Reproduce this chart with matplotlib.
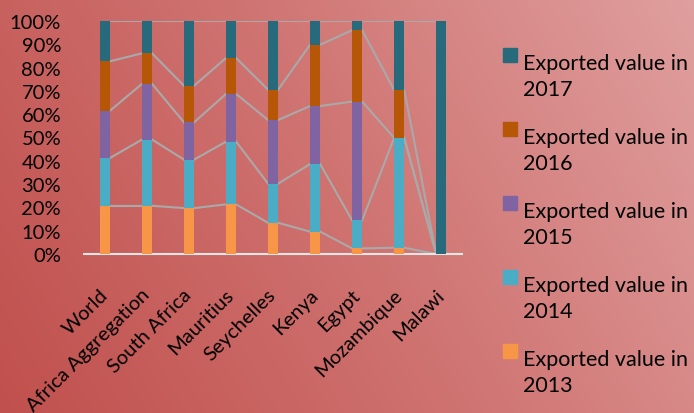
import numpy as np
import matplotlib.pyplot as plt
from matplotlib.patches import Rectangle
from matplotlib.colors import LinearSegmentedColormap

plt.rcParams['font.family'] = ['Lato', 'DejaVu Sans']

# --------------
# data: share of exported value per year (%)
# --------------
countries = ["World", "Africa Aggregation", "South Africa", "Mauritius",
             "Seychelles", "Kenya", "Egypt", "Mozambique", "Malawi"]
years = ["2013", "2014", "2015", "2016", "2017"]
v2013 = [20.7, 20.7, 19.7, 21.3, 13.4, 9.6, 2.4, 2.7, 0.0]
v2014 = [20.5, 28.4, 20.8, 26.9, 16.8, 29.0, 12.1, 47.1, 0.0]
v2015 = [20.3, 23.9, 16.0, 20.5, 27.3, 24.9, 50.9, 0.0, 0.0]
v2016 = [21.2, 13.1, 15.7, 15.4, 13.0, 26.3, 30.6, 20.6, 0.0]
v2017 = [17.3, 13.9, 27.8, 15.9, 29.5, 10.2, 4.0, 29.6, 100.0]
colors = ["#f79646", "#4bacc6", "#8064a2", "#b65708", "#276a7c"]

series = np.array([v2013, v2014, v2015, v2016, v2017])
shares = series / series.sum(axis=0) * 100

fig = plt.figure(figsize=(6.94, 4.14), dpi=100)

# gradient background
bg = fig.add_axes([0, 0, 1, 1], zorder=-1)
gx, gy = np.meshgrid(np.linspace(0, 1, 300), np.linspace(0, 1, 200))
grad = 0.75 * gx + 0.25 * gy
cmap = LinearSegmentedColormap.from_list("bg", ["#c0504d", "#cf7371", "#df9f9e"])
bg.imshow(grad, cmap=cmap, aspect="auto", origin="lower", extent=[0, 1, 0, 1])
bg.axis("off")

ax = fig.add_axes([0.121, 0.384, 0.545, 0.563])
ax.patch.set_alpha(0)

x = np.arange(len(countries))
w = 0.24
bottom = np.zeros(len(countries))
tops = []
for k in range(len(years)):
    ax.bar(x, shares[k], w, bottom=bottom, color=colors[k], zorder=3)
    bottom = bottom + shares[k]
    tops.append(bottom.copy())

# series lines between neighbouring bars
for top in tops:
    for i in range(len(countries) - 1):
        ax.plot([x[i] + w / 2, x[i + 1] - w / 2], [top[i], top[i + 1]],
                color="#a9a9a9", lw=1.5, zorder=2)

ax.set_xlim(-0.5, len(countries) - 0.5)
ax.set_ylim(0, 100)
ax.set_yticks(np.arange(0, 101, 10))
ax.set_yticklabels(["%d%%" % v for v in range(0, 101, 10)], fontsize=14.5)
ax.set_xticks(x)
ax.set_xticklabels(countries, fontsize=14.5, rotation=45, ha="right",
                   va="center", rotation_mode="anchor")
ax.tick_params(axis="both", length=0)
ax.tick_params(axis="x", pad=27)
ax.tick_params(axis="y", pad=16.5)
for s in ["left", "right", "top"]:
    ax.spines[s].set_visible(False)
ax.spines["bottom"].set_color("#e6e6e6")
ax.spines["bottom"].set_linewidth(1.5)

# legend, newest year first
for j, k in enumerate(range(len(years) - 1, -1, -1)):
    yc = 1 - (56 + 74 * j) / 414
    fig.add_artist(Rectangle((503 / 694, yc - 7 / 414), 14 / 694, 14 / 414,
                             transform=fig.transFigure, color=colors[k]))
    fig.text(523 / 694, yc + 2 / 414, "Exported value in\n" + years[k],
             fontsize=15.5, va="top", ha="left", linespacing=1.36,
             transform=fig.transFigure)

fig.savefig("out.png", dpi=100)
